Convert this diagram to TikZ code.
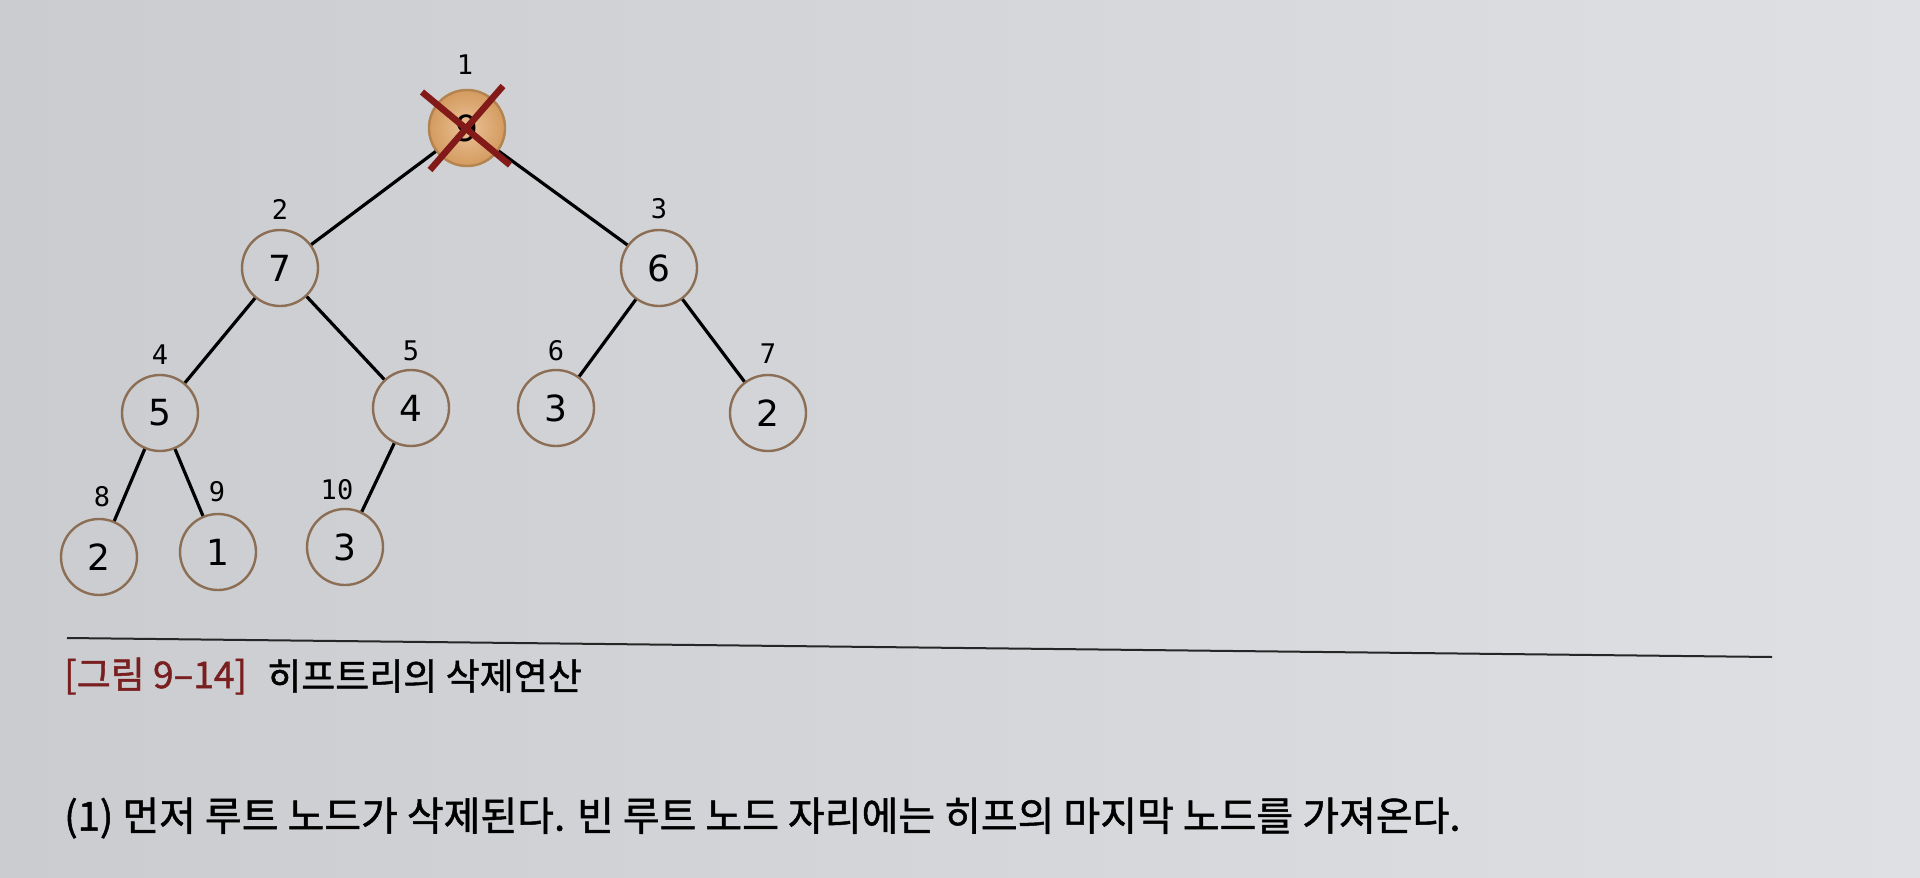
\documentclass[tikz,border=0pt]{standalone}
\usepackage{fontspec}
\setmainfont{DejaVu Sans}
\newfontfamily\monof{DejaVu Sans Mono}
\newfontfamily\kor[FakeBold=1.2]{Noto Sans CJK KR}
\usetikzlibrary{shadings}
\definecolor{bgL}{HTML}{CBCCD0}
\definecolor{bgR}{HTML}{DFE0E3}
\definecolor{ring}{HTML}{8C6E55}
\definecolor{capred}{HTML}{7A1F1F}
\definecolor{xred}{HTML}{821A1A}
\definecolor{orin}{HTML}{EBC197}
\definecolor{orout}{HTML}{D39A5E}
\begin{document}
\begin{tikzpicture}[x=1pt,y=-1pt,
  hnode/.style={circle,draw=ring,line width=2.4pt,minimum size=76pt,inner sep=0pt,
    font=\fontsize{36}{38}\selectfont},
  idx/.style={font=\monof\fontsize{27}{29}\selectfont,inner sep=0pt},
  edge/.style={line width=3.2pt,black}]
\shade[left color=bgL,right color=bgR] (0,0) rectangle (1920,878);
\useasboundingbox (0,0) rectangle (1920,878);
% root
\shade[inner color=orin,outer color=orout] (467,128) circle (39);
\node[hnode,draw=orout!85!black] (r) at (467,128) {9};
\node[hnode] (n7) at (280,268) {7};
\node[hnode] (n6) at (659,268) {6};
\node[hnode] (n5) at (160,413) {5};
\node[hnode] (n4) at (411,408) {4};
\node[hnode] (n3) at (556,408) {3};
\node[hnode] (n2) at (768,413) {2};
\node[hnode] (l2) at (99,557) {2};
\node[hnode] (l1) at (218,552) {1};
\node[hnode] (l3) at (345,547) {3};
\draw[edge] (r) -- (n7);
\draw[edge] (r) -- (n6);
\draw[edge] (n7) -- (n5);
\draw[edge] (n7) -- (n4);
\draw[edge] (n6) -- (n3);
\draw[edge] (n6) -- (n2);
\draw[edge] (n5) -- (l2);
\draw[edge] (n5) -- (l1);
\draw[edge] (n4) -- (l3);
% cross
\coordinate (xa) at (422,92); \coordinate (xb) at (510,165);
\coordinate (xc) at (503,86); \coordinate (xd) at (430,170);
\draw[xred,line width=6.5pt] (xa) -- (xb);
\draw[xred,line width=6.5pt] (xc) -- (xd);
% index labels
\node[idx] (i1) at (465,65) {1};
\node[idx] (i2) at (280,209) {2};
\node[idx] (i3) at (659,209) {3};
\node[idx] (i4) at (160,355) {4};
\node[idx] (i5) at (411,351) {5};
\node[idx] (i6) at (556,351) {6};
\node[idx] (i7) at (768,354) {7};
\node[idx] (i8) at (102,497) {8};
\node[idx] (i9) at (217,492) {9};
\node[idx] (i10) at (337,490) {10};
% caption
\coordinate (la) at (67,638); \coordinate (lb) at (1772,657);
\draw[line width=2pt,black!85] (la) -- (lb);
\node[anchor=west,inner sep=0pt,text=capred,font=\kor\fontsize{37}{39}\selectfont] (cap1) at (64,676) {[그림 9–14]};
\node[anchor=west,inner sep=0pt,font=\kor\fontsize{37}{39}\selectfont] (cap2) at (267,676) {히프트리의 삭제연산};
\node[anchor=west,inner sep=0pt,font=\kor\fontsize{40}{42}\selectfont] (txt) at (64,818) {(1) 먼저 루트 노드가 삭제된다. 빈 루트 노드 자리에는 히프의 마지막 노드를 가져온다.};
\end{tikzpicture}
\end{document}
